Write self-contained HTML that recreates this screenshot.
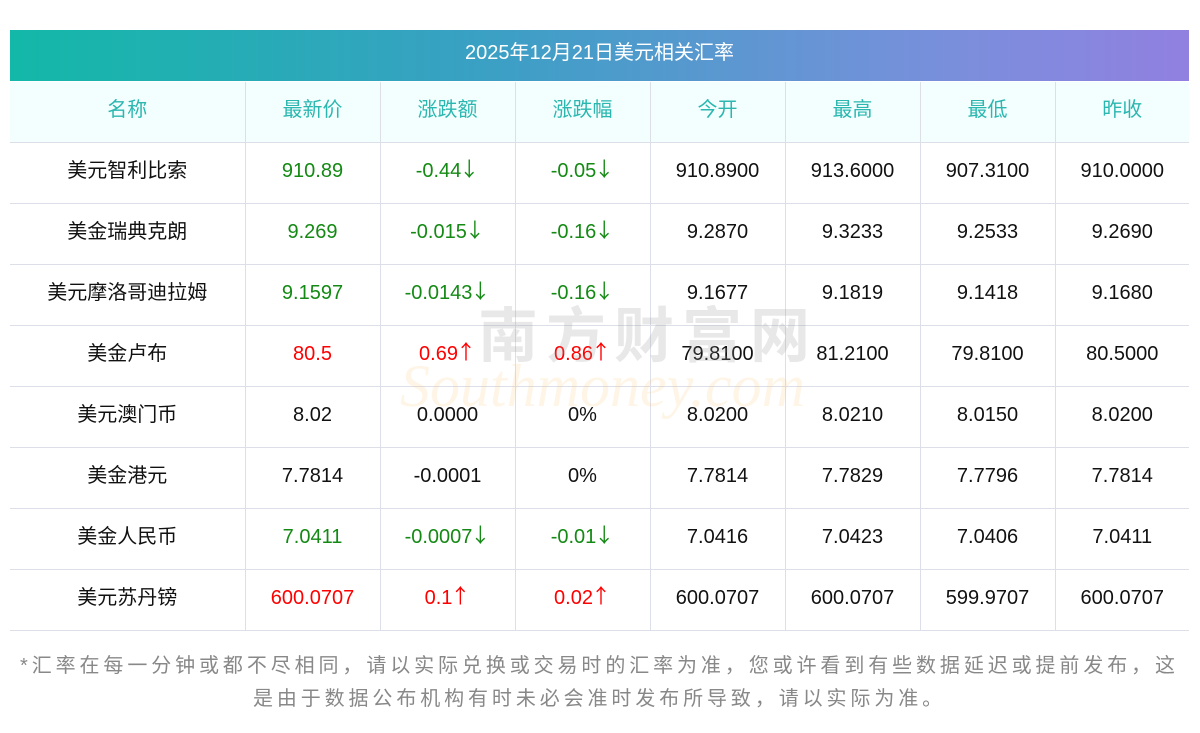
<!DOCTYPE html><html><head><meta charset="utf-8"><style>
body{margin:0;width:1200px;height:733px;background:#fff;font-family:"Liberation Sans","Noto Sans CJK SC",sans-serif;position:relative;overflow:hidden}
.title{position:absolute;left:10px;top:30px;width:1179px;height:51px;background:linear-gradient(90deg,#13b8a8,#3aa0c4 40%,#7a8fdc 80%,#9180e0);color:#fff;font-size:20px;line-height:47px;text-align:center}
table{position:absolute;left:10px;top:82px;width:1179px;border-collapse:collapse;table-layout:fixed}
td{border:1px solid #dcdfe8;height:56px;line-height:24px;text-align:center;font-size:20px;color:#111;padding:0 0 4px 0}
tr:first-child td{border-top:none;background:#f3fffe;color:#2bb7b0}
td:first-child{border-left:none}td:last-child{border-right:none}
.g{color:#148a14}.r{color:#f00}
.a{font-family:"Noto Sans CJK SC",sans-serif;font-size:20px;line-height:1;display:inline-block;vertical-align:top;margin-top:-1px;margin-left:-2px}
.note{position:absolute;left:10px;top:650px;width:1179px;text-align:center;font-size:20px;line-height:33px;color:#888;letter-spacing:3.9px}
.wm1{position:absolute;left:478px;top:288px;font-size:60px;color:rgba(150,150,150,.22);letter-spacing:8px;font-weight:bold}
.wm2{position:absolute;left:400px;top:352px;font-size:60px;font-style:italic;font-family:"Liberation Serif",serif;color:rgba(250,200,120,.18)}
</style></head><body>
<div class="title">2025年12月21日美元相关汇率</div>
<table>
<colgroup><col style="width:235px"><col style="width:135px"><col style="width:135px"><col style="width:135px"><col style="width:135px"><col style="width:135px"><col style="width:135px"><col style="width:134px"></colgroup>
<tr><td>名称</td><td>最新价</td><td>涨跌额</td><td>涨跌幅</td><td>今开</td><td>最高</td><td>最低</td><td>昨收</td></tr>
<tr><td>美元智利比索</td><td class="g">910.89</td><td class="g">-0.44<span class="a">↓</span></td><td class="g">-0.05<span class="a">↓</span></td><td>910.8900</td><td>913.6000</td><td>907.3100</td><td>910.0000</td></tr>
<tr><td>美金瑞典克朗</td><td class="g">9.269</td><td class="g">-0.015<span class="a">↓</span></td><td class="g">-0.16<span class="a">↓</span></td><td>9.2870</td><td>9.3233</td><td>9.2533</td><td>9.2690</td></tr>
<tr><td>美元摩洛哥迪拉姆</td><td class="g">9.1597</td><td class="g">-0.0143<span class="a">↓</span></td><td class="g">-0.16<span class="a">↓</span></td><td>9.1677</td><td>9.1819</td><td>9.1418</td><td>9.1680</td></tr>
<tr><td>美金卢布</td><td class="r">80.5</td><td class="r">0.69<span class="a">↑</span></td><td class="r">0.86<span class="a">↑</span></td><td>79.8100</td><td>81.2100</td><td>79.8100</td><td>80.5000</td></tr>
<tr><td>美元澳门币</td><td>8.02</td><td>0.0000</td><td>0%</td><td>8.0200</td><td>8.0210</td><td>8.0150</td><td>8.0200</td></tr>
<tr><td>美金港元</td><td>7.7814</td><td>-0.0001</td><td>0%</td><td>7.7814</td><td>7.7829</td><td>7.7796</td><td>7.7814</td></tr>
<tr><td>美金人民币</td><td class="g">7.0411</td><td class="g">-0.0007<span class="a">↓</span></td><td class="g">-0.01<span class="a">↓</span></td><td>7.0416</td><td>7.0423</td><td>7.0406</td><td>7.0411</td></tr>
<tr><td>美元苏丹镑</td><td class="r">600.0707</td><td class="r">0.1<span class="a">↑</span></td><td class="r">0.02<span class="a">↑</span></td><td>600.0707</td><td>600.0707</td><td>599.9707</td><td>600.0707</td></tr>
</table>
<div class="wm1">南方财富网</div>
<div class="wm2">Southmoney.com</div>
<div class="note">*汇率在每一分钟或都不尽相同，请以实际兑换或交易时的汇率为准，您或许看到有些数据延迟或提前发布，这<br>是由于数据公布机构有时未必会准时发布所导致，请以实际为准。</div>
</body></html>
